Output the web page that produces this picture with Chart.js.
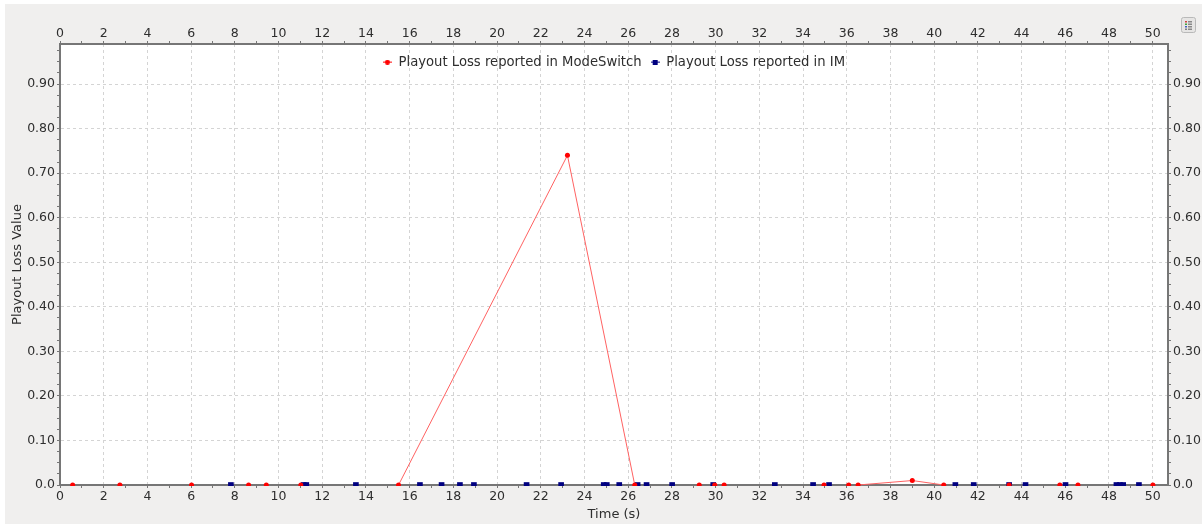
<!DOCTYPE html>
<html>
<head>
<meta charset="utf-8">
<script src="https://cdn.jsdelivr.net/npm/chart.js@4.4.1/dist/chart.umd.min.js"></script>
<style>
  html, body { margin: 0; padding: 0; background: #ffffff; }
  #wrap { width: 1202px; height: 524px; }
</style>
</head>
<body>
<div id="wrap"><canvas id="chart" width="1202" height="524"></canvas></div>
<script>
// playout loss samples (time in s, loss value)
const modeSwitchTimes = [0.58, 2.74, 6.02, 8.63, 9.44, 11.02, 15.49, 23.22, 26.30, 29.25, 29.96, 30.39, 34.96, 36.09, 36.52, 39.0, 40.44, 43.43, 45.75, 46.58, 50.01];
const modeSwitchLoss  = [0, 0, 0, 0, 0, 0, 0, 0.74, 0, 0, 0, 0, 0, 0, 0, 0.01, 0, 0, 0, 0, 0];

const imTimes = [7.82, 11.15, 11.27, 13.54, 16.47, 17.46, 18.30, 18.94, 21.35, 22.93, 24.88, 25.02, 25.59, 26.43, 26.84, 28.01, 29.89, 32.71, 34.46, 35.19, 40.97, 41.81, 43.43, 44.18, 46.01, 48.34, 48.50, 48.65, 49.37];
const imLoss  = [0, 0, 0, 0, 0, 0, 0, 0, 0, 0, 0, 0, 0, 0, 0, 0, 0, 0, 0, 0, 0, 0, 0, 0, 0, 0, 0, 0, 0];

const seriesNames = ["Playout Loss reported in ModeSwitch", "Playout Loss reported in IM"];
const xTickLabels = ["0", "2", "4", "6", "8", "10", "12", "14", "16", "18", "20", "22", "24", "26", "28", "30", "32", "34", "36", "38", "40", "42", "44", "46", "48", "50"];
const yTickLabels = ["0.0", "0.10", "0.20", "0.30", "0.40", "0.50", "0.60", "0.70", "0.80", "0.90"];
const yTickValues = [0, 0.1, 0.2, 0.3, 0.4, 0.5, 0.6, 0.7, 0.8, 0.9];

const X_MAX = 50.7, Y_MAX = 0.99;
const FONT = "'DejaVu Sans', sans-serif";
const AXIS_GREY = "#767676";
const GRID_GREY = "#d4d4d4";
const PLOT_TOP = 44;

const toPoints = (xs, ys) => xs.map((x, i) => ({ x: x, y: ys[i] }));

// little legend marks: short line with a dot / square
function legendMark(color, square) {
  const c = document.createElement("canvas");
  c.width = 9; c.height = 5;
  const g = c.getContext("2d");
  g.fillStyle = color;
  g.fillRect(0, 2, 9, 1);
  if (square) {
    g.fillRect(2, 0, 5, 5);
  } else {
    g.beginPath();
    g.arc(4.5, 2.5, 2.5, 0, Math.PI * 2);
    g.fill();
  }
  return c;
}
const marks = [legendMark("#ff0000", false), legendMark("#000080", true)];

const isMajorX = (v) => Math.abs(v % 2) < 1e-6;
const isMajorY = (v) => yTickValues.some((t) => Math.abs(t - v) < 1e-6);

const backdrop = {
  id: "backdrop",
  // pull the legend down inside the plot, centred over it
  afterLayout(chart) {
    const lg = chart.legend, a = chart.chartArea;
    lg.left = a.left;
    lg.right = a.right;
    lg.width = a.right - a.left;
    lg.top = a.top + 2.5;
    lg.height = 30;
    lg.bottom = lg.top + lg.height;
  },
  beforeDraw(chart) {
    const { ctx, chartArea: a } = chart;
    ctx.save();
    ctx.fillStyle = "#ffffff";
    ctx.fillRect(0, 0, chart.width, chart.height);
    ctx.fillStyle = "#f0efee";
    ctx.fillRect(5, 4, chart.width - 5, chart.height - 4);
    ctx.fillStyle = "#ffffff";
    ctx.fillRect(a.left, a.top, a.right - a.left, a.bottom - a.top);
    // small legend toggle button in the corner
    ctx.fillStyle = "#e6e5e4";
    ctx.strokeStyle = "#b9b9b9";
    ctx.lineWidth = 1;
    ctx.beginPath();
    ctx.roundRect(1181.5, 17.5, 14, 15, 2);
    ctx.fill();
    ctx.stroke();
    const rows = ["#d04040", "#40a040", "#4060c0", "#808080"];
    rows.forEach((c, i) => {
      ctx.fillStyle = c;
      ctx.fillRect(1185, 21 + i * 2.5, 2, 1.5);
      ctx.fillStyle = "#888";
      ctx.fillRect(1188, 21 + i * 2.5, 4, 1.5);
    });
    ctx.restore();
  },
};

function xAxis(position, height) {
  return {
    type: "linear",
    position: position,
    min: 0,
    max: X_MAX,
    afterBuildTicks(scale) {
      const t = [];
      for (let v = 0; v <= X_MAX; v += 1) t.push({ value: v });
      scale.ticks = t;
    },
    afterFit(scale) {
      const lg = scale.chart.legend;
      scale.height = position === "top" ? height - (lg ? lg.height : 0) : height;
    },
    ticks: {
      autoSkip: false,
      maxRotation: 0,
      padding: position === "top" ? 0 : 1,
      color: "#2e2e2e",
      font: { family: FONT, size: 12.5 },
      callback: (v) => (isMajorX(v) ? xTickLabels[Math.round(v / 2)] : ""),
    },
    grid: {
      color: (c) => (position === "bottom" && isMajorX(c.tick.value) ? GRID_GREY : "transparent"),
      tickColor: AXIS_GREY,
      tickLength: 3,
      lineWidth: 1,
    },
    border: { display: true, color: AXIS_GREY, width: 2, dash: [3, 3] },
  };
}

function yAxis(position, width) {
  return {
    type: "linear",
    position: position,
    min: 0,
    max: Y_MAX,
    afterBuildTicks(scale) {
      const t = [];
      for (let i = 0; i * 0.025 <= Y_MAX; i++) t.push({ value: i * 0.025 });
      scale.ticks = t;
    },
    afterFit(scale) { scale.width = width; },
    ticks: {
      autoSkip: false,
      padding: 2,
      color: "#2e2e2e",
      font: { family: FONT, size: 12.5 },
      callback: (v) => {
        const i = yTickValues.findIndex((t) => Math.abs(t - v) < 1e-6);
        return i >= 0 ? yTickLabels[i] : "";
      },
    },
    grid: {
      color: (c) => (position === "left" && isMajorY(c.tick.value) ? GRID_GREY : "transparent"),
      tickColor: AXIS_GREY,
      tickLength: 3,
      lineWidth: 1,
    },
    border: { display: true, color: AXIS_GREY, width: 2, dash: [3, 3] },
  };
}

const xBottom = xAxis("bottom", 39);
xBottom.title = { display: true, text: "Time (s)", color: "#2e2e2e", font: { family: FONT, size: 13 }, padding: { top: 0, bottom: 2 } };
const yLeft = yAxis("left", 60);
yLeft.title = { display: true, text: "Playout Loss Value", color: "#2e2e2e", font: { family: FONT, size: 13 }, padding: { top: 10, bottom: 0 } };

new Chart(document.getElementById("chart"), {
  type: "line",
  data: {
    datasets: [
      {
        label: seriesNames[0],
        data: toPoints(modeSwitchTimes, modeSwitchLoss),
        borderColor: "#ff6262",
        borderWidth: 1,
        backgroundColor: "#ff0000",
        pointBackgroundColor: "#ff0000",
        pointBorderWidth: 0,
        pointRadius: 2.5,
        pointStyle: "circle",
        tension: 0,
        clip: { left: 5, right: 5, top: 5, bottom: 1 },
        segment: {
          borderColor: (c) => (c.p0.parsed.y === 0 && c.p1.parsed.y === 0 ? "transparent" : undefined),
        },
      },
      {
        label: seriesNames[1],
        data: toPoints(imTimes, imLoss),
        showLine: false,
        borderColor: "#000080",
        backgroundColor: "#000080",
        pointBackgroundColor: "#000080",
        pointBorderWidth: 0,
        pointRadius: 4,
        pointStyle: "rect",
        clip: { left: 5, right: 5, top: 5, bottom: 1 },
      },
    ],
  },
  options: {
    responsive: false,
    animation: false,
    layout: { padding: 0 },
    scales: {
      x: xBottom,
      x2: xAxis("top", PLOT_TOP),
      y: yLeft,
      y2: yAxis("right", 34),
    },
    plugins: {
      legend: {
        position: "top",
        align: "center",
        maxHeight: 0.001,
        labels: {
          usePointStyle: true,
          pointStyleWidth: 9,
          boxHeight: 6,
          padding: 9,
          color: "#2e2e2e",
          font: { family: FONT, size: 13.2 },
          generateLabels(chart) {
            const items = Chart.defaults.plugins.legend.labels.generateLabels(chart);
            items.forEach((it, i) => { it.pointStyle = marks[i]; });
            return items;
          },
        },
      },
      tooltip: { enabled: false },
    },
  },
  plugins: [backdrop],
});
</script>
</body>
</html>
